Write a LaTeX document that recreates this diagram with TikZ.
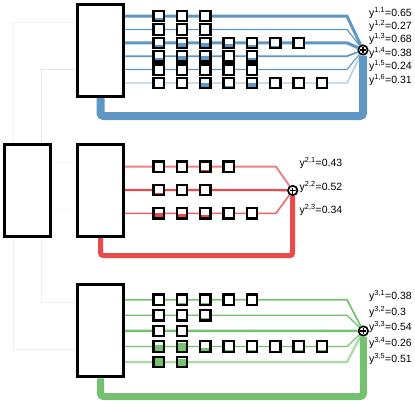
\documentclass[tikz,border=0pt]{standalone}
\usepackage{fontspec}
\setmainfont{Liberation Sans}
\definecolor{netblue}{RGB}{94,150,196}
\definecolor{netred}{RGB}{233,74,74}
\definecolor{netgreen}{RGB}{116,194,112}
\newcommand{\yval}[2]{y\textsuperscript{#1}=#2}

\tikzset{
  block/.style={draw, line width=3pt, fill=white, inner sep=0pt, minimum width=46pt, minimum height=92pt},
  cell/.style 2 args={draw, line width=2.2pt, fill=white, inner sep=0pt, minimum size=10.4pt,
    path picture={\fill[#1] (path picture bounding box.south west) rectangle ([yshift=#2*10.4pt]path picture bounding box.south east);}},
  summ/.style={circle, draw, line width=1.7pt, fill=white, inner sep=0pt, minimum size=9.5pt,
    path picture={\draw[line width=1.4pt] ([xshift=-3pt]path picture bounding box.center) -- ([xshift=3pt]path picture bounding box.center)
      ([yshift=-3pt]path picture bounding box.center) -- ([yshift=3pt]path picture bounding box.center);}},
  tree/.style={line width=0.8pt},
  outflow/.style={line width=#1, rounded corners=3pt},
  ylab/.style={anchor=base west, inner sep=0pt, font=\fontsize{10.5}{12}\selectfont},
}

\begin{document}
\begin{tikzpicture}[x=1pt, y=-1pt]
  \useasboundingbox (0,0) rectangle (415,404);
  \node[block] (root) at (27.5,190.7) {};
  \node[block] (blk1) at (100.5,50.5) {};
  \node[block] (blk2) at (100.5,190.7) {};
  \node[block] (blk3) at (100.5,330.8) {};
  \node[summ] (sum1) at (363,50) {};
  \node[summ] (sum2) at (292.7,190.5) {};
  \node[summ] (sum3) at (363.3,331) {};

  % tree
  \coordinate (ta) at (13,22.7);
  \coordinate (tb) at (41,69.3);
  \coordinate (tc) at (0,162.3);
  \coordinate (td) at (0,209.3);
  \coordinate (te) at (41,302.3);
  \coordinate (tf) at (13,349.3);
  \draw[tree, gray!10] (ta |- root.north) |- (blk1.west |- ta);
  \draw[tree, netblue!20] (tb |- root.north) |- (blk1.west |- tb);
  \draw[tree, gray!7] (root.east |- tc) -- (blk2.west |- tc);
  \draw[tree, gray!7] (root.east |- td) -- (blk2.west |- td);
  \draw[tree, gray!12] (te |- root.south) |- (blk3.west |- te);
  \draw[tree, netgreen!16] (tf |- root.south) |- (blk3.west |- tf);

  % outputs
  \coordinate (o1) at (0,116);
  \coordinate (o2) at (0,255.7);
  \coordinate (o3) at (0,396.5);
  \draw[outflow=8pt, netblue] (sum1.south) -- (sum1 |- o1) -- (blk1.south |- o1) -- (blk1.south);
  \draw[outflow=5pt, netred] (sum2.south) -- (sum2 |- o2) -- (blk2.south |- o2) -- (blk2.south);
  \draw[outflow=7pt, netgreen] (sum3.south) -- (sum3 |- o3) -- (blk3.south |- o3) -- (blk3.south);

  % group 1
  \foreach \r/\yy/\v/\op in {1/16.2/0.65/1, 2/29.5/0.27/1, 3/42.8/0.68/1, 4/56.2/0.38/1, 5/69.5/0.24/1, 6/83/0.31/0.5} {
    \coordinate (k1-\r) at (347,\yy);
    \draw[netblue, opacity=\op, line width=\v*4.5pt] (blk1.east |- k1-\r) -- (k1-\r) -- (sum1);
    \node[ylab] (lab1-\r) at (369,\yy) {\yval{1,\r}{\v}};
  }
  \foreach \r/\c/\f in {1/1/.3, 1/2/.1, 1/3/.1,
      2/1/0, 2/2/.1, 2/3/0,
      3/1/.3, 3/2/.5, 3/3/.5, 3/4/.35, 3/5/.3, 3/6/.2, 3/7/.1,
      4/1/.3, 4/2/.5, 4/3/.5, 4/4/.1, 4/5/.3,
      5/1/0, 5/2/0, 5/3/.1, 5/4/0, 5/5/.1,
      6/1/.1, 6/2/.1, 6/3/.5, 6/4/.2, 6/5/.5, 6/6/0, 6/7/0, 6/8/0}
    \node[cell={netblue}{\f}] (q1-\r-\c) at ({158.7+23.33*(\c-1)},{16.2+13.36*(\r-1)}) {};

  % group 2
  \foreach \r/\yy/\v/\op in {1/166.7/0.43/0.7, 2/190/0.52/1, 3/213.3/0.34/0.85} {
    \coordinate (k2-\r) at (276,\yy);
    \draw[netred, opacity=\op, line width=\v*4.5pt] (blk2.east |- k2-\r) -- (k2-\r) -- (sum2);
    \node[ylab] (lab2-\r) at (299.5,\yy) {\yval{2,\r}{\v}};
  }
  \foreach \r/\c/\f in {1/1/.05, 1/2/.1, 1/3/.2, 1/4/.05,
      2/1/.2, 2/2/.15, 2/3/.15,
      3/1/.5, 3/2/.45, 3/3/.35, 3/4/.05, 3/5/.05}
    \node[cell={netred}{\f}] (q2-\r-\c) at ({158.7+23.33*(\c-1)},{166.7+23.3*(\r-1)}) {};

  % group 3
  \foreach \r/\yy/\v/\op in {1/299.7/0.38/1, 2/315.3/0.3/1, 3/330.9/0.54/1, 4/346.5/0.26/1, 5/362.1/0.51/0.6} {
    \coordinate (k3-\r) at (347,\yy);
    \draw[netgreen, opacity=\op, line width=\v*4.5pt] (blk3.east |- k3-\r) -- (k3-\r) -- (sum3);
    \node[ylab] (lab3-\r) at (369,\yy) {\yval{3,\r}{\v}};
  }
  \foreach \r/\c/\f in {1/1/.05, 1/2/.15, 1/3/.2, 1/4/.05, 1/5/.05,
      2/1/.05, 2/2/.1, 2/3/.2,
      3/1/.15, 3/2/.05,
      4/1/.6, 4/2/.85, 4/3/.4, 4/4/.15, 4/5/.15, 4/6/.1, 4/7/.15, 4/8/.2,
      5/1/.85, 5/2/.8}
    \node[cell={netgreen}{\f}] (q3-\r-\c) at ({158.7+23.33*(\c-1)},{299.7+15.6*(\r-1)}) {};
\end{tikzpicture}
\end{document}
